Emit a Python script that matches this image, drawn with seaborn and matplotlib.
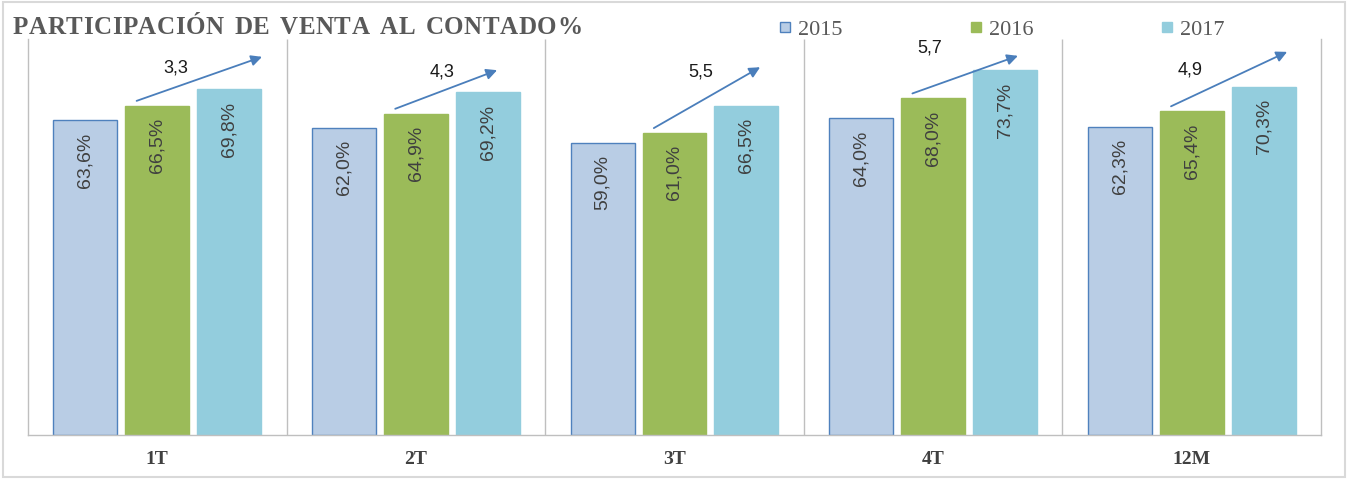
import numpy as np
import pandas as pd
import seaborn as sns
import matplotlib.pyplot as plt
from matplotlib.lines import Line2D
from matplotlib.patches import Rectangle

periods = ["1T", "2T", "3T", "4T", "12M"]
years = ["2015", "2016", "2017"]
share_2015 = [63.6, 62.0, 59.0, 64.0, 62.3]
share_2016 = [66.5, 64.9, 61.0, 68.0, 65.4]
share_2017 = [69.8, 69.2, 66.5, 73.7, 70.3]

# hand drawn arrows in the original: tip offset inside the group and tip height
arrow_tip_dx = [0.405, 0.314, 0.331, 0.328, 0.369]
arrow_tip_y = [76.4, 73.7, 74.3, 76.6, 77.4]
delta_dx = [0.073, 0.10, 0.10, -0.012, -0.007]
delta_y = [74.3, 73.5, 73.5, 78.4, 73.9]

colors = ["#B9CDE5", "#9BBB59", "#93CDDD"]
edges = ["#4F81BD", "#9BBB59", "#93CDDD"]
W, H = 1348, 481


def fmt(v, pct=True):
    s = f"{v:.1f}".replace(".", ",")
    return s + "%" if pct else s


def tracked_text(fig, x_px, y_px, s, tracking, word_gap, **kw):
    # draw a string char by char to get the wide letter spacing of the original
    r = fig.canvas.get_renderer()
    x = x_px
    for ch in s:
        if ch == " ":
            x += word_gap
            continue
        t = fig.text(x / W, 1 - y_px / H, ch, va="center", ha="left", **kw)
        x += t.get_window_extent(r).width + tracking


df = pd.DataFrame({
    "period": periods * 3,
    "year": np.repeat(years, len(periods)),
    "share": share_2015 + share_2016 + share_2017,
})

sns.set_style("white")
fig = plt.figure(figsize=(W / 100, H / 100), dpi=100)
ax = fig.add_axes([28 / W, 45 / H, 1293 / W, 396 / H])

sns.barplot(data=df, x="period", y="share", hue="year", palette=colors, saturation=1,
            width=0.835, gap=0.111, errorbar=None, legend=False, ax=ax)

for cont, ec in zip(ax.containers, edges):
    for p in cont:
        p.set_edgecolor(ec)
        p.set_linewidth(1.0)
        ax.annotate(fmt(p.get_height()), xy=(p.get_x() + p.get_width() / 2, p.get_height()),
                    xytext=(0, -8), textcoords="offset points", rotation=90, ha="center", va="top",
                    fontsize=14, color="#404040", family="Liberation Sans")

ax.set_xlim(-0.5, 4.5)
ax.set_ylim(0, 80)
ax.vlines(np.arange(0.5, 4.5), 0, 80, colors="#BFBFBF", lw=1, zorder=0)
for side in ["left", "right", "bottom"]:
    ax.spines[side].set_color("#BFBFBF")
    ax.spines[side].set_linewidth(1)
ax.spines["top"].set_visible(False)
ax.set_yticks([])
ax.set_xlabel("")
ax.set_ylabel("")
ax.tick_params(axis="x", length=0, pad=11, labelsize=14, labelcolor="#404040")
for lbl in ax.get_xticklabels():
    lbl.set_fontweight("bold")
    lbl.set_fontfamily("Liberation Serif")

# growth arrows 2016 -> 2017 with the difference in points
for i in range(len(periods)):
    diff = share_2017[i] - share_2016[i]
    ax.annotate("", xy=(i + arrow_tip_dx[i], arrow_tip_y[i]), xytext=(i - 0.08, share_2016[i] + 1),
                arrowprops=dict(arrowstyle="-|>", color="#4A7EBB", lw=1.3, mutation_scale=16,
                                shrinkA=0, shrinkB=0))
    ax.text(i + delta_dx[i], delta_y[i], fmt(diff, pct=False), ha="center", va="center",
            fontsize=13, color="#1A1A1A", family="Liberation Sans")

handles = [Line2D([], [], marker="s", ls="none", markersize=7.5, markerfacecolor=c,
                  markeredgecolor=e, markeredgewidth=1) for c, e in zip(colors, edges)]
fig.legend(handles, years, loc="center left", bbox_to_anchor=(778 / W, 1 - 30 / H), ncol=3,
           frameon=False, prop=dict(family="Liberation Serif", size=16), labelcolor="#595959",
           handlelength=0.6, handletextpad=0.3, columnspacing=5.7, borderpad=0, borderaxespad=0)

tracked_text(fig, 13, 27, "PARTICIPACIÓN DE VENTA AL CONTADO%", tracking=0.5, word_gap=10,
             fontsize=18, fontweight="bold", family="Liberation Serif", color="#595959")

fig.patches.append(Rectangle((3 / W, 3 / H), 1342 / W, 475 / H, transform=fig.transFigure,
                             fc="none", ec="#D9D9D9", lw=1.5))

fig.savefig("out.png", dpi=100)
